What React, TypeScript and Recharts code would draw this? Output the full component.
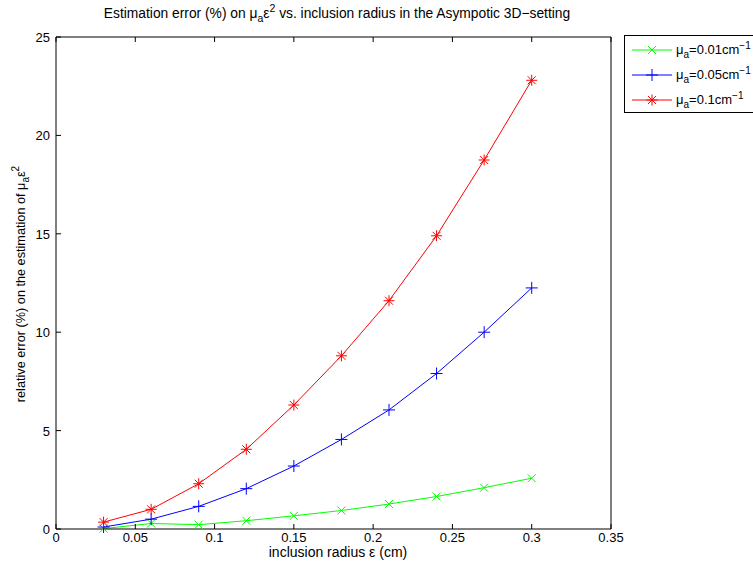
import React from 'react';
import { LineChart, Line, XAxis, YAxis, Legend } from 'recharts';

// inclusion radius (cm)
const radius = [0.03, 0.06, 0.09, 0.12, 0.15, 0.18, 0.21, 0.24, 0.27, 0.3];
// relative error (%) for each absorption value
const errMuA001 = [0.02, 0.28, 0.22, 0.42, 0.67, 0.94, 1.27, 1.65, 2.1, 2.58];
const errMuA005 = [0.1, 0.5, 1.15, 2.05, 3.2, 4.55, 6.05, 7.9, 10.0, 12.25];
const errMuA01 = [0.35, 1.0, 2.3, 4.05, 6.3, 8.8, 11.6, 14.9, 18.75, 22.8];

const xTicks = [0, 0.05, 0.1, 0.15, 0.2, 0.25, 0.3, 0.35];
const yTicks = [0, 5, 10, 15, 20, 25];

const series = [
  { key: 'low', color: '#00ff00', shape: 'x', mu: '0.01' },
  { key: 'mid', color: '#0000ff', shape: 'plus', mu: '0.05' },
  { key: 'high', color: '#ff0000', shape: 'star', mu: '0.1' },
];

const data = radius.map((r, i) => ({
  r,
  low: errMuA001[i],
  mid: errMuA005[i],
  high: errMuA01[i],
}));

const FONT = '"Liberation Sans", Arial, Helvetica, sans-serif';
const W = 753;
const H = 563;

const Marker = ({ shape, cx, cy, color }: any) => {
  if (cx == null || cy == null) return null;
  const s = { stroke: color, strokeWidth: 1 };
  if (shape === 'x') {
    const r = 4;
    return (
      <g>
        <line x1={cx - r} y1={cy - r} x2={cx + r} y2={cy + r} {...s} />
        <line x1={cx - r} y1={cy + r} x2={cx + r} y2={cy - r} {...s} />
      </g>
    );
  }
  if (shape === 'plus') {
    const r = 6;
    return (
      <g>
        <line x1={cx - r} y1={cy} x2={cx + r} y2={cy} {...s} />
        <line x1={cx} y1={cy - r} x2={cx} y2={cy + r} {...s} />
      </g>
    );
  }
  const r = 5.5;
  const d = 4;
  return (
    <g>
      <line x1={cx - r} y1={cy} x2={cx + r} y2={cy} {...s} />
      <line x1={cx} y1={cy - r} x2={cx} y2={cy + r} {...s} />
      <line x1={cx - d} y1={cy - d} x2={cx + d} y2={cy + d} {...s} />
      <line x1={cx - d} y1={cy + d} x2={cx + d} y2={cy - d} {...s} />
    </g>
  );
};

const BottomTick = ({ x, y, payload }: any) => (
  <g>
    <line x1={x} x2={x} y1={y} y2={y - 5} stroke="#000" />
    <text x={x} y={y + 13} textAnchor="middle" fontSize={13} fontFamily={FONT} fill="#000">
      {String(payload.value)}
    </text>
  </g>
);

const TopTick = ({ x, y }: any) => <line x1={x} x2={x} y1={y} y2={y + 5} stroke="#000" />;

const LeftTick = ({ x, y, payload }: any) => (
  <g>
    <line x1={x} x2={x + 5} y1={y} y2={y} stroke="#000" />
    <text x={x - 6} y={y + 5} textAnchor="end" fontSize={13} fontFamily={FONT} fill="#000">
      {String(payload.value)}
    </text>
  </g>
);

const RightTick = ({ x, y }: any) => <line x1={x} x2={x - 5} y1={y} y2={y} stroke="#000" />;

const LegendBox = () => (
  <div
    style={{
      border: '1px solid #000',
      background: '#fff',
      width: 140,
      padding: '1px 0 0 0',
      boxSizing: 'border-box',
      height: 78,
      fontFamily: FONT,
      fontSize: 13,
      color: '#000',
    }}
  >
    {series.map((s) => (
      <div key={s.key} style={{ display: 'flex', alignItems: 'center', height: 25 }}>
        <svg width={51} height={16} style={{ flex: 'none' }}>
          <line x1={7} x2={47} y1={8} y2={8} stroke={s.color} strokeWidth={1} />
          <Marker shape={s.shape} cx={27} cy={8} color={s.color} />
        </svg>
        <span style={{ whiteSpace: 'nowrap' }}>
          μ<sub style={{ fontSize: 10 }}>a</sub>={s.mu}cm<sup style={{ fontSize: 10 }}>−1</sup>
        </span>
      </div>
    ))}
  </div>
);

export default function App() {
  return (
    <div style={{ position: 'absolute', left: 0, top: 0, width: W, height: H, background: '#fff' }}>
      <LineChart width={W} height={H} data={data} margin={{ top: 36, right: 141, bottom: 0, left: 0 }}>
        <XAxis
          xAxisId="b"
          dataKey="r"
          type="number"
          domain={[0, 0.35]}
          ticks={xTicks}
          interval={0}
          height={34}
          tickSize={0}
          tickMargin={0}
          tickLine={false}
          axisLine={{ stroke: '#000' }}
          tick={BottomTick}
        />
        <XAxis
          xAxisId="t"
          dataKey="r"
          orientation="top"
          type="number"
          domain={[0, 0.35]}
          ticks={xTicks}
          interval={0}
          height={1}
          tickSize={0}
          tickMargin={0}
          tickLine={false}
          axisLine={{ stroke: '#000' }}
          tick={TopTick}
        />
        <YAxis
          yAxisId="l"
          type="number"
          domain={[0, 25]}
          ticks={yTicks}
          interval={0}
          width={56}
          tickSize={0}
          tickMargin={0}
          tickLine={false}
          axisLine={{ stroke: '#000' }}
          tick={LeftTick}
        />
        <YAxis
          yAxisId="r"
          orientation="right"
          type="number"
          domain={[0, 25]}
          ticks={yTicks}
          interval={0}
          width={1}
          tickSize={0}
          tickMargin={0}
          tickLine={false}
          axisLine={{ stroke: '#000' }}
          tick={RightTick}
        />
        {series.map((s) => (
          <Line
            key={s.key}
            xAxisId="b"
            yAxisId="l"
            dataKey={s.key}
            stroke={s.color}
            strokeWidth={1}
            type="linear"
            isAnimationActive={false}
            dot={(p: any) => <Marker key={`${s.key}-${p.index}`} shape={s.shape} cx={p.cx} cy={p.cy} color={s.color} />}
            activeDot={false}
          />
        ))}
        <Legend
          layout="vertical"
          align="center"
          verticalAlign="middle"
          content={LegendBox}
          wrapperStyle={{ left: 624, top: 35, width: 140, height: 'auto' }}
        />
      </LineChart>
      <svg
        width={W}
        height={H}
        style={{ position: 'absolute', left: 0, top: 0, pointerEvents: 'none' }}
        fontFamily={FONT}
      >
        <text x={337} y={18} textAnchor="middle" fontSize={13.8} fill="#000">
          Estimation error (%) on μ<tspan dy={4} fontSize={10.5}>a</tspan>
          <tspan dy={-4}>ε</tspan>
          <tspan dy={-6} fontSize={10.5}>2</tspan>
          <tspan dy={6}> vs. inclusion radius in the Asympotic 3D−setting</tspan>
        </text>
        <text x={338} y={557} textAnchor="middle" fontSize={14} fill="#000">
          inclusion radius ε (cm)
        </text>
        <text
          x={0}
          y={0}
          textAnchor="middle"
          fontSize={12.7}
          fill="#000"
          transform="translate(25 284) rotate(-90)"
        >
          relative error (%) on the estimation of μ<tspan dy={4} fontSize={10}>a</tspan>
          <tspan dy={-4}>ε</tspan>
          <tspan dy={-6} fontSize={10}>2</tspan>
        </text>
      </svg>
    </div>
  );
}
